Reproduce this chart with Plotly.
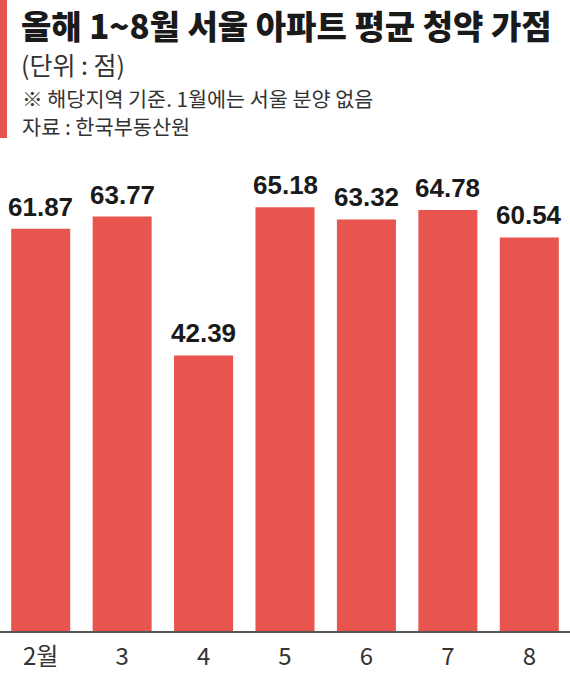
import plotly.graph_objects as go

months = ["2월", "3", "4", "5", "6", "7", "8"]
scores = [61.87, 63.77, 42.39, 65.18, 63.32, 64.78, 60.54]
labels = ["61.87", "63.77", "42.39", "65.18", "63.32", "64.78", "60.54"]

title = "올해 1~8월 서울 아파트 평균 청약 가점"
unit = "(단위 : 점)"
note = "※ 해당지역 기준. 1월에는 서울 분양 없음"
source = "자료 : 한국부동산원"

W, H = 570, 673
T, B = 176, 42
PH = H - T - B

def py(y):
    return (H - B - y) / PH

RED = "#e8554f"
KR = "Noto Sans CJK KR"

fig = go.Figure()
fig.add_trace(go.Bar(x=list(range(len(months))), y=scores, marker=dict(color=RED, line=dict(width=0)),
                     hoverinfo="skip"))

for i, (v, t) in enumerate(zip(scores, labels)):
    fig.add_annotation(x=i, y=v, text="<b>" + t + "</b>", showarrow=False, yanchor="bottom", yshift=5,
                       font=dict(family="Liberation Sans, Arial", size=26, color="#1a1a1a"),
                       xref="x", yref="y")

fig.add_annotation(x=20 / W, y=py(0), xref="paper", yref="paper", xanchor="left", yanchor="top",
                   text=title, showarrow=False, borderpad=0,
                   font=dict(family=KR, size=33, color="#1a1a1a", weight=900))
fig.add_annotation(x=20 / W, y=py(64), xref="paper", yref="paper", xanchor="left", yanchor="middle",
                   text=unit, showarrow=False, borderpad=0, font=dict(family=KR, size=25, color="#333333"))
fig.add_annotation(x=21 / W, y=py(98), xref="paper", yref="paper", xanchor="left", yanchor="middle",
                   text=note, showarrow=False, borderpad=0, font=dict(family=KR, size=20.7, color="#333333"))
fig.add_annotation(x=21 / W, y=py(126), xref="paper", yref="paper", xanchor="left", yanchor="middle",
                   text=source, showarrow=False, borderpad=0, font=dict(family=KR, size=20.8, color="#333333"))

fig.add_shape(type="rect", xref="paper", yref="paper", x0=0, x1=7 / W, y0=py(138), y1=py(0),
              fillcolor=RED, line=dict(width=0), layer="above")

fig.update_layout(
    width=W, height=H,
    margin=dict(l=0, r=0, t=T, b=B, pad=0),
    paper_bgcolor="white", plot_bgcolor="white",
    bargap=0.275, showlegend=False,
    xaxis=dict(range=[-0.5, len(months) - 0.5], tickmode="array",
               tickvals=list(range(len(months))), ticktext=months,
               showline=True, linecolor="#555555", linewidth=1.5, showgrid=False, ticks="",
               ticklabelstandoff=3,
               tickfont=dict(family=KR, size=24, color="#333333"), fixedrange=True),
    yaxis=dict(range=[0, 70], visible=False, showgrid=False, fixedrange=True),
)

fig.write_html("out.html", config={"displayModeBar": False},
               post_script="document.body.style.margin='0';document.body.style.overflow='hidden';")
